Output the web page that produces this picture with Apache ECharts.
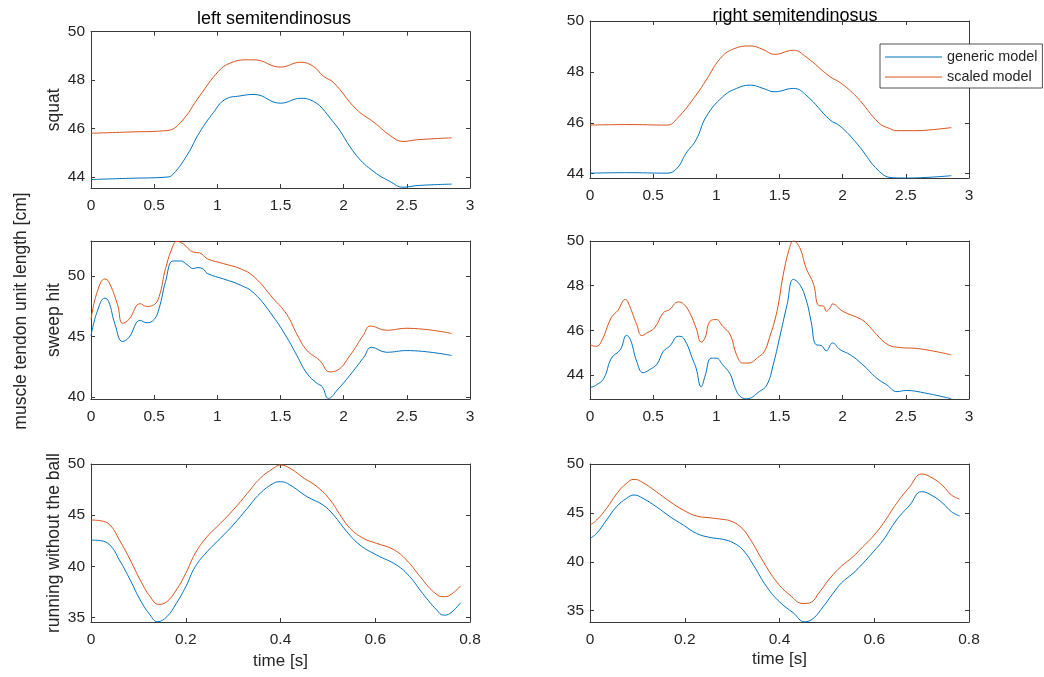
<!DOCTYPE html>
<html><head><meta charset="utf-8">
<script src="https://cdn.jsdelivr.net/npm/echarts@6/dist/echarts.min.js"></script>
<style>html,body{margin:0;padding:0;background:#fff}#c{width:1044px;height:677px}</style>
</head><body><div id="c"></div>
<script>
// ---------- DATA ----------
const seriesNames = ['generic model', 'scaled model'];
const colGeneric = '#0072BD', colScaled = '#D95319';

const xTicksLong = [0, 0.5, 1, 1.5, 2, 2.5, 3];
const xTicksShort = [0, 0.2, 0.4, 0.6, 0.8];
const yTicksSquat = [44, 46, 48, 50];
const yTicksSweepL = [40, 45, 50];
const yTicksSweepR = [44, 46, 48, 50];
const yTicksRun = [35, 40, 45, 50];

// squat, left
const sqL_gen_t = [0,0.3,0.6,0.65,0.76,0.86,0.97,1.06,1.18,1.29,1.5,1.66,1.73,1.92,2.1,2.24,2.37,2.47,2.58,2.855];
const sqL_gen   = [43.9,43.95,44.0,44.12,44.9,45.85,46.67,47.2,47.35,47.41,47.05,47.25,47.2,46.26,44.9,44.22,43.81,43.58,43.65,43.71];
const sqL_sca_t = [0,0.3,0.6,0.71,0.86,1.01,1.10,1.23,1.29,1.5,1.66,1.76,1.84,1.92,2.1,2.24,2.37,2.47,2.58,2.855];
const sqL_sca   = [45.81,45.86,45.92,46.26,47.35,48.37,48.7,48.84,48.84,48.54,48.74,48.57,48.16,47.9,46.8,46.26,45.71,45.47,45.54,45.62];

// squat, right
const sqR_gen_t = [0,0.3,0.61,0.69,0.76,0.84,0.92,1.05,1.16,1.27,1.37,1.46,1.61,1.71,1.9,1.98,2.11,2.29,2.4,2.5,2.69,2.86];
const sqR_gen   = [44.02,44.04,44.02,44.22,44.8,45.33,46.24,47.02,47.35,47.48,47.35,47.22,47.35,47.09,46.11,45.87,45.2,44.09,43.84,43.83,43.86,43.92];
const sqR_sca_t = [0,0.3,0.61,0.69,0.84,0.92,1.03,1.13,1.27,1.37,1.46,1.61,1.71,1.9,1.98,2.11,2.29,2.37,2.43,2.56,2.69,2.86];
const sqR_sca   = [45.91,45.93,45.91,46.17,47.09,47.68,48.52,48.89,49.02,48.88,48.69,48.85,48.59,47.81,47.58,47.02,45.98,45.78,45.69,45.69,45.72,45.81];

// sweep hit, left
const swL_gen_t = [0,0.05,0.11,0.14,0.19,0.25,0.3,0.39,0.44,0.5,0.54,0.59,0.65,0.71,0.76,0.81,0.84,0.89,0.92,1.05,1.18,1.29,1.44,1.55,1.63,1.71,1.79,1.83,1.88,1.95,2.05,2.16,2.22,2.34,2.5,2.855];
const swL_gen   = [45.07,47.1,48.18,47.9,46.02,44.6,44.93,46.34,46.15,46.42,47.37,49.54,51.25,51.25,50.95,50.62,50.7,50.57,50.22,49.76,49.27,48.59,46.69,44.93,43.44,41.95,41.14,40.87,39.9,40.6,41.82,43.31,44.12,43.71,43.85,43.44];
const swL_sca_t = [0,0.05,0.11,0.14,0.21,0.25,0.3,0.39,0.44,0.5,0.54,0.59,0.65,0.68,0.73,0.81,0.86,0.92,1.05,1.18,1.29,1.44,1.55,1.63,1.71,1.81,1.89,1.95,2.05,2.16,2.21,2.34,2.5,2.855];
const swL_sca   = [46.42,48.73,49.76,49.54,47.64,46.1,46.42,47.72,47.5,47.64,48.32,50.62,52.52,52.87,52.66,51.98,51.92,51.44,51.03,50.62,49.95,48.18,46.83,45.2,43.85,43.04,42.09,42.22,43.44,45.2,45.88,45.53,45.69,45.26];

// sweep hit, right
const swR_gen_t = [0,0.05,0.11,0.17,0.24,0.29,0.32,0.37,0.42,0.47,0.53,0.58,0.63,0.7,0.74,0.82,0.84,0.88,0.91,0.96,1.0,1.05,1.11,1.15,1.19,1.24,1.34,1.4,1.45,1.5,1.56,1.61,1.66,1.71,1.75,1.79,1.83,1.87,1.92,1.98,2.06,2.16,2.27,2.35,2.43,2.5,2.66,2.86];
const swR_gen   = [43.43,43.55,43.85,44.75,45.13,45.77,45.58,44.6,44.1,44.23,44.48,45.05,45.28,45.73,45.65,44.6,44.3,43.47,43.93,44.75,44.75,44.45,44.03,43.4,43.03,42.93,43.25,43.55,44.45,45.65,47.15,48.28,48.05,47.38,46.4,45.35,45.32,45.08,45.43,45.13,44.9,44.45,43.85,43.55,43.25,43.3,43.18,42.93];
const swR_sca_t = [0,0.05,0.09,0.17,0.22,0.28,0.3,0.37,0.41,0.45,0.51,0.58,0.63,0.7,0.74,0.79,0.84,0.88,0.91,0.95,1.0,1.05,1.11,1.16,1.21,1.25,1.34,1.38,1.42,1.48,1.53,1.58,1.61,1.66,1.71,1.77,1.81,1.85,1.87,1.9,1.92,2.0,2.15,2.21,2.27,2.36,2.45,2.61,2.86];
const swR_sca   = [45.35,45.28,45.5,46.58,46.88,47.38,47.27,46.25,45.76,45.88,46.1,46.78,46.93,47.27,47.18,46.78,46.1,45.47,45.65,46.4,46.48,46.18,45.8,44.9,44.53,44.53,44.83,45.05,45.65,46.85,48.5,49.7,50.0,49.7,48.8,48.05,47.11,47.08,46.85,47.0,47.18,46.85,46.48,46.18,45.8,45.35,45.23,45.17,44.9];

// running without the ball, left
const rnL_gen_t = [0,0.02,0.04,0.06,0.083,0.104,0.125,0.14,0.16,0.18,0.2,0.22,0.245,0.273,0.3,0.33,0.357,0.385,0.4,0.42,0.456,0.49,0.512,0.54,0.568,0.603,0.645,0.673,0.7,0.73,0.744,0.758,0.78];
const rnL_gen   = [42.57,42.51,42.08,40.62,38.66,36.71,35.24,34.6,35.08,36.38,38.01,39.97,41.43,42.74,44.04,45.67,47.13,48.11,48.27,47.95,46.81,45.99,45.02,43.39,42.08,41.11,40.13,38.99,37.36,35.73,35.24,35.41,36.45];
const rnL_sca_t = [0,0.02,0.04,0.06,0.083,0.104,0.125,0.143,0.16,0.18,0.2,0.22,0.245,0.273,0.3,0.33,0.357,0.385,0.4,0.42,0.45,0.477,0.505,0.526,0.547,0.575,0.603,0.638,0.666,0.695,0.723,0.744,0.758,0.78];
const rnL_sca   = [44.53,44.46,44.04,42.57,40.62,38.66,37.04,36.29,36.55,37.69,39.32,41.27,42.9,44.2,45.5,47.13,48.6,49.58,49.9,49.58,48.6,47.79,46.48,45.02,43.71,42.74,42.25,41.66,40.62,38.99,37.52,37.04,37.2,38.08];

// running without the ball, right
const rnR_gen_t = [0,0.014,0.035,0.056,0.077,0.093,0.112,0.14,0.169,0.197,0.225,0.253,0.281,0.302,0.323,0.345,0.373,0.4,0.429,0.453,0.471,0.492,0.513,0.531,0.555,0.576,0.598,0.619,0.647,0.675,0.7,0.724,0.745,0.763,0.78];
const rnR_gen   = [42.39,42.9,44.27,45.63,46.48,46.83,46.48,45.63,44.61,43.75,42.9,42.49,42.29,41.95,41.2,39.66,37.44,35.9,34.78,33.86,34.2,35.39,36.76,37.85,38.81,39.83,41.02,42.22,44.27,45.8,47.17,46.72,45.97,45.12,44.68];
const rnR_sca_t = [0,0.014,0.035,0.056,0.077,0.093,0.112,0.14,0.169,0.197,0.225,0.253,0.281,0.295,0.316,0.337,0.366,0.394,0.422,0.45,0.464,0.485,0.506,0.531,0.555,0.576,0.598,0.619,0.647,0.675,0.7,0.724,0.745,0.763,0.78];
const rnR_sca   = [43.75,44.27,45.46,46.93,48.02,48.43,48.09,47.17,46.14,45.29,44.68,44.5,44.33,44.2,43.65,42.39,40.0,37.95,36.59,35.73,35.8,36.93,38.29,39.56,40.51,41.54,42.63,43.92,45.97,47.68,48.98,48.53,47.75,46.83,46.42];

// ---------- LAYOUT / OPTIONS ----------
const pairs = (t, v) => t.map((x, i) => [x, v[i]]);
const TXT = '#262626', AX = '#3a3a3a', FONT = 'Liberation Sans, Arial, sans-serif';

const panels = [
  {left: 91,  top: 31.7, height: 156.3, xmax: 3,   xt: xTicksLong,  ymin: 43.55, ymax: 50,   yt: yTicksSquat,  yname: 'squat', gen: pairs(sqL_gen_t, sqL_gen), sca: pairs(sqL_sca_t, sqL_sca)},
  {left: 590, top: 21,   height: 157,   xmax: 3,   xt: xTicksLong,  ymin: 43.83, ymax: 50,   yt: yTicksSquat,  yname: '', gen: pairs(sqR_gen_t, sqR_gen), sca: pairs(sqR_sca_t, sqR_sca)},
  {left: 91,  top: 241,  height: 158,   xmax: 3,   xt: xTicksLong,  ymin: 39.85, ymax: 52.9, yt: yTicksSweepL, yname: 'sweep hit', gen: pairs(swL_gen_t, swL_gen), sca: pairs(swL_sca_t, swL_sca)},
  {left: 590, top: 241,  height: 158,   xmax: 3,   xt: xTicksLong,  ymin: 42.92, ymax: 50,   yt: yTicksSweepR, yname: '', gen: pairs(swR_gen_t, swR_gen), sca: pairs(swR_sca_t, swR_sca)},
  {left: 91,  top: 464,  height: 158,   xmax: 0.8, xt: xTicksShort, ymin: 34.57, ymax: 50,   yt: yTicksRun,    yname: 'running without the ball', xname: 'time [s]', xgap: 31, gen: pairs(rnL_gen_t, rnL_gen), sca: pairs(rnL_sca_t, rnL_sca)},
  {left: 590, top: 464,  height: 158,   xmax: 0.8, xt: xTicksShort, ymin: 33.84, ymax: 50,   yt: yTicksRun,    yname: '', xname: 'time [s]', xgap: 29, gen: pairs(rnR_gen_t, rnR_gen), sca: pairs(rnR_sca_t, rnR_sca)}
];

const grid = [], xAxis = [], yAxis = [], series = [];
panels.forEach((p, i) => {
  grid.push({left: p.left, top: p.top, width: 379, height: p.height, containLabel: false});
  const axLine = {show: true, onZero: false, lineStyle: {color: AX, width: 1}};
  const tick = (vals) => ({show: true, inside: true, length: 4, customValues: vals, lineStyle: {color: AX, width: 1}});
  xAxis.push({type: 'value', gridIndex: i, min: 0, max: p.xmax, position: 'bottom',
    axisLine: axLine, axisTick: tick(p.xt), splitLine: {show: false},
    axisLabel: {customValues: p.xt, color: TXT, fontSize: 15.5, fontFamily: FONT, margin: 10},
    name: p.xname || '', nameLocation: 'middle', nameGap: p.xgap || 30,
    nameTextStyle: {color: TXT, fontSize: 17, fontFamily: FONT}});
  xAxis.push({type: 'value', gridIndex: i, min: 0, max: p.xmax, position: 'top',
    axisLine: axLine, axisTick: tick(p.xt), splitLine: {show: false}, axisLabel: {show: false}});
  yAxis.push({type: 'value', gridIndex: i, min: p.ymin, max: p.ymax, position: 'left',
    axisLine: axLine, axisTick: tick(p.yt), splitLine: {show: false},
    axisLabel: {customValues: p.yt, color: TXT, fontSize: 15.5, fontFamily: FONT, margin: 6},
    name: p.yname, nameLocation: 'middle', nameGap: 28, nameRotate: 90,
    nameTextStyle: {color: TXT, fontSize: 17.5, fontFamily: FONT}});
  yAxis.push({type: 'value', gridIndex: i, min: p.ymin, max: p.ymax, position: 'right',
    axisLine: axLine, axisTick: tick(p.yt), splitLine: {show: false}, axisLabel: {show: false}});
  const common = {type: 'line', xAxisIndex: 2 * i, yAxisIndex: 2 * i, symbol: 'none', showSymbol: false,
    smooth: 0.45, silent: true, animation: false, clip: true};
  series.push(Object.assign({}, common, {name: seriesNames[0], data: p.gen, lineStyle: {color: colGeneric, width: 1}, itemStyle: {color: colGeneric}}));
  series.push(Object.assign({}, common, {name: seriesNames[1], data: p.sca, lineStyle: {color: colScaled, width: 1}, itemStyle: {color: colScaled}}));
});

const option = {
  backgroundColor: '#fff',
  animation: false,
  textStyle: {fontFamily: FONT, color: TXT},
  title: [
    {text: 'left semitendinosus', left: 274, top: 10, textAlign: 'center', padding: 0,
     textStyle: {fontSize: 18, fontWeight: 'normal', color: '#000', fontFamily: FONT}},
    {text: 'right semitendinosus', left: 795, top: 7, textAlign: 'center', padding: 0,
     textStyle: {fontSize: 18, fontWeight: 'normal', color: '#000', fontFamily: FONT}}
  ],
  legend: {
    data: seriesNames.map(n => ({name: n, icon: 'path://M0,0 L100,0 L100,2 L0,2 Z'})),
    orient: 'vertical', left: 880, top: 44,
    padding: [6, 5, 4, 5], itemGap: 6, itemWidth: 57, itemHeight: 14,
    backgroundColor: '#fff', borderColor: '#262626', borderWidth: 0.8, borderRadius: 0,
    textStyle: {fontSize: 14.4, color: TXT, fontFamily: FONT},
    selectedMode: false
  },
  grid, xAxis, yAxis, series,
  graphic: [{
    type: 'text', x: 21, y: 311, rotation: Math.PI / 2,
    style: {text: 'muscle tendon unit length [cm]', fill: TXT, fontSize: 17.5, fontFamily: FONT,
      textAlign: 'center', textVerticalAlign: 'middle'}
  }]
};

const chart = echarts.init(document.getElementById('c'), null, {renderer: 'canvas'});
chart.setOption(option);
</script>
</body></html>
